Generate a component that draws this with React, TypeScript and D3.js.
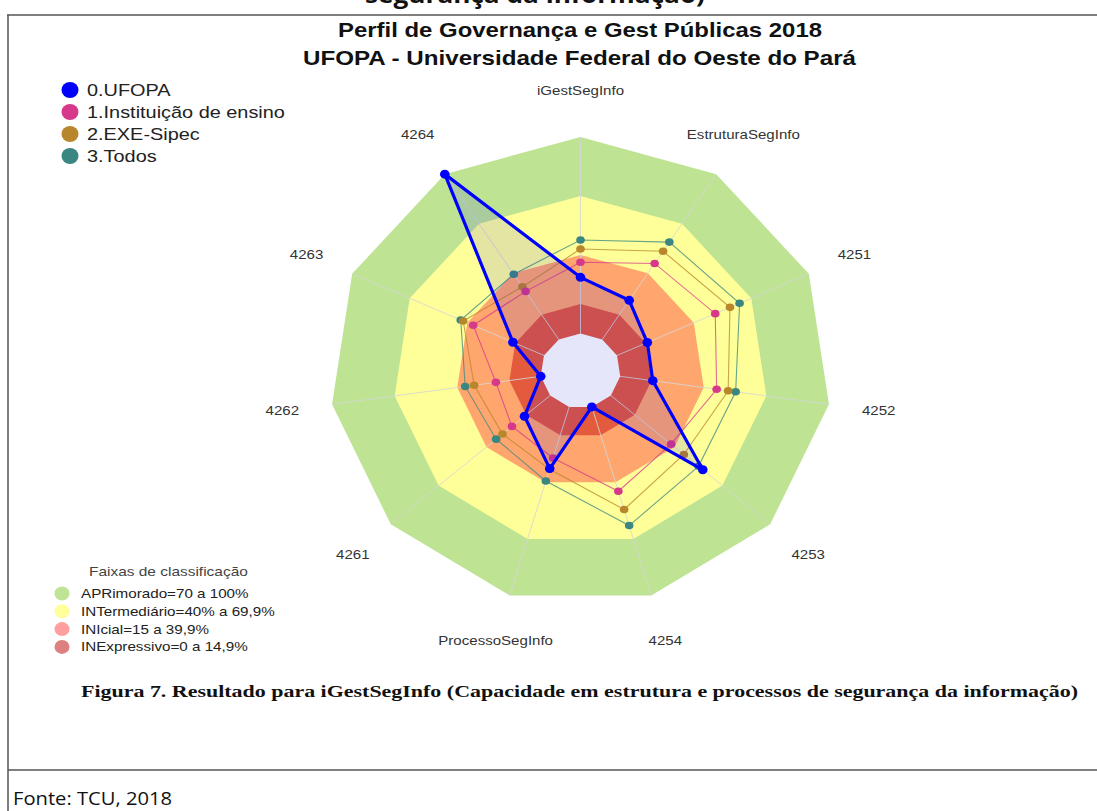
import React from "react";
import * as d3 from "d3";

const AXES = ["iGestSegInfo", "EstruturaSegInfo", "4251", "4252", "4253", "4254", "ProcessoSegInfo", "4261", "4262", "4263", "4264"];
const UFOPA = [28.6, 23.7, 15.8, 15.6, 57.7, 0, 32.7, 16.1, 0, 16.2, 100];
const INSTITUICAO = [36.3, 46.0, 51.2, 46.2, 37.8, 44.7, 27.1, 24.0, 21.5, 36.9, 29.1];
const EXE_SIPEC = [43.0, 53.4, 58.9, 51.7, 45.8, 54.4, 33.0, 29.9, 31.9, 42.1, 31.9];
const TODOS = [47.6, 58.9, 63.9, 55.3, 55.0, 62.9, 39.3, 33.9, 36.2, 43.4, 39.5];

const SERIES_NAMES = ["0.UFOPA", "1.Instituição de ensino", "2.EXE-Sipec", "3.Todos"];
const SERIES_COLORS = ["#0000ff", "#d6398a", "#b8862b", "#3a8782"];

const BAND_LEVELS = [100, 70, 40, 15];
const BAND_COLORS = ["#bde393", "#ffff99", "#ffa66e", "#e35a3c"];
const BAND_LABELS = ["APRimorado=70 a 100%", "INTermediário=40% a 69,9%", "INIcial=15 a 39,9%", "INExpressivo=0 a 14,9%"];
const BAND_LEGEND_COLORS = ["#bfe495", "#ffff9c", "#ffa0a0", "#dc8080"];

const W = 1097, H = 811;
const CX = 580.5, CY = 371, RX = 251, RY = 234;
const SX = 1.16;

const rScale = d3.scaleLinear().domain([0, 100]).range([0.16, 1]);
const aScale = d3.scaleLinear().domain([0, AXES.length]).range([0, 2 * Math.PI]);

function pt(i: number, v: number, raw = false): [number, number] {
  const r = raw ? v : rScale(v);
  const a = aScale(i);
  return [CX + r * RX * Math.sin(a), CY - r * RY * Math.cos(a)];
}
function ring(v: number, raw = false) {
  return AXES.map((_, i) => pt(i, v, raw));
}
const lineGen = d3.line<[number, number]>().curve(d3.curveLinearClosed);

function SText({ x, y, size, sx = SX, anchor = "middle", fill = "#222", weight = "normal", baseline = "alphabetic", children }: any) {
  return (
    <text
      transform={`translate(${x},${y}) scale(${sx},1)`}
      fontSize={size}
      fontFamily="'Liberation Sans', Arial, sans-serif"
      textAnchor={anchor}
      fill={fill}
      fontWeight={weight}
      dominantBaseline={baseline}
    >
      {children}
    </text>
  );
}

export default function App() {
  const others = [
    { data: TODOS, color: SERIES_COLORS[3] },
    { data: EXE_SIPEC, color: SERIES_COLORS[2] },
    { data: INSTITUICAO, color: SERIES_COLORS[1] },
  ];
  const ufopaPts = UFOPA.map((v, i) => pt(i, v));
  return (
    <svg width={W} height={H} style={{ position: "absolute", left: 0, top: 0, display: "block" }}>
      <rect x={0} y={0} width={W} height={H} fill="#fff" />
      {/* document frame */}
      <text x={535} y={3} textAnchor="middle" fontFamily="'Open Sans', sans-serif" fontWeight="bold" fontSize={24} textLength={340} lengthAdjust="spacingAndGlyphs" fill="#111">
        segurança da informação)
      </text>
      <line x1={7} x2={W} y1={15} y2={15} stroke="#555" strokeWidth={1.5} />
      <line x1={8} x2={8} y1={15} y2={H} stroke="#555" strokeWidth={1.5} />
      <line x1={8} x2={W} y1={770} y2={770} stroke="#555" strokeWidth={1.5} />
      <text x={13} y={805} fontFamily="'Open Sans', sans-serif" fontSize={19} textLength={159} lengthAdjust="spacingAndGlyphs" fill="#111">
        Fonte: TCU, 2018
      </text>
      <text x={81} y={697} fontFamily="'Liberation Serif', serif" fontWeight="bold" fontSize={16.5} textLength={997} lengthAdjust="spacingAndGlyphs" fill="#111">
        Figura 7. Resultado para iGestSegInfo (Capacidade em estrutura e processos de segurança da informação)
      </text>

      {/* titles */}
      <text x={580} y={37} textAnchor="middle" fontFamily="'Liberation Sans', Arial, sans-serif" fontWeight="bold" fontSize={21} textLength={484} lengthAdjust="spacingAndGlyphs" fill="#111">
        Perfil de Governança e Gest Públicas 2018
      </text>
      <text x={579.5} y={65} textAnchor="middle" fontFamily="'Liberation Sans', Arial, sans-serif" fontWeight="bold" fontSize={21} textLength={553} lengthAdjust="spacingAndGlyphs" fill="#111">
        UFOPA - Universidade Federal do Oeste do Pará
      </text>

      {/* bands */}
      {BAND_LEVELS.map((lv, i) => (
        <path key={lv} d={lineGen(ring(lv)) || ""} fill={BAND_COLORS[i]} />
      ))}

      {/* axis spokes */}
      {AXES.map((a, i) => {
        const [x1, y1] = pt(i, 0);
        const [x2, y2] = pt(i, 100);
        return <line key={a} x1={x1} y1={y1} x2={x2} y2={y2} stroke="#d6d6d6" strokeOpacity={0.85} strokeWidth={1} />;
      })}

      {/* other series */}
      {others.map((s, si) => {
        const pts = s.data.map((v, i) => pt(i, v));
        return (
          <g key={si}>
            <path d={lineGen(pts) || ""} fill="none" stroke={s.color} strokeOpacity={0.75} strokeWidth={1.1} />
            {pts.map(([x, y], i) => (
              <ellipse key={i} cx={x} cy={y} rx={4.3} ry={3.8} fill={s.color} />
            ))}
          </g>
        );
      })}

      {/* UFOPA fill, then the centre hole, then the outline */}
      <path d={lineGen(ufopaPts) || ""} fill="rgba(0,0,255,0.1)" />
      <path d={lineGen(ring(0)) || ""} fill="#e6e6fa" />
      <path d={lineGen(ufopaPts) || ""} fill="none" stroke="#0000ff" strokeWidth={3.2} strokeLinejoin="round" />
      {ufopaPts.map(([x, y], i) => (
        <ellipse key={i} cx={x} cy={y} rx={4.8} ry={4.5} fill="#0000ff" />
      ))}

      {/* axis labels */}
      {AXES.map((a, i) => {
        const [x, y] = pt(i, 1.2, true);
        return (
          <SText key={a} x={x} y={y + 4.5} size={13} fill="#333">
            {a}
          </SText>
        );
      })}

      {/* series legend */}
      {SERIES_NAMES.map((n, i) => (
        <g key={n}>
          <ellipse cx={70} cy={90 + i * 22} rx={8.5} ry={8} fill={SERIES_COLORS[i]} />
          <SText x={87} y={96 + i * 22} size={17} anchor="start" sx={1.17} fill="#222">
            {n}
          </SText>
        </g>
      ))}

      {/* band legend */}
      <SText x={89} y={576} size={13} anchor="start" sx={1.19} fill="#444">
        Faixas de classificação
      </SText>
      {BAND_LABELS.map((n, i) => (
        <g key={n}>
          <ellipse cx={62} cy={593.5 + i * 17.8} rx={7.5} ry={7} fill={BAND_LEGEND_COLORS[i]} />
          <SText x={81} y={598 + i * 17.8} size={13} anchor="start" sx={1.17} fill="#222">
            {n}
          </SText>
        </g>
      ))}
    </svg>
  );
}
